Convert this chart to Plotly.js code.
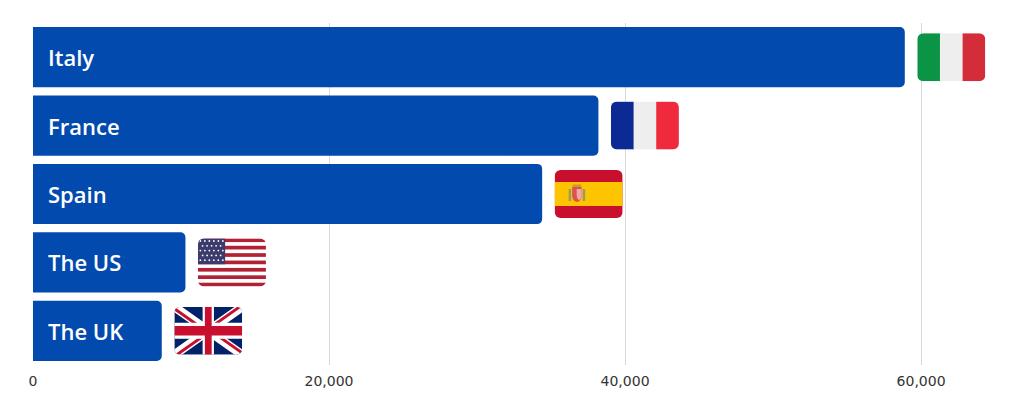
<!DOCTYPE html>
<html>
<head>
<meta charset="utf-8">
<script src="https://cdn.plot.ly/plotly-3.0.1.min.js"></script>
<style>
html,body{margin:0;padding:0;background:#fff;}
#chart{width:1014px;height:414px;}
</style>
</head>
<body>
<div id="chart"></div>
<script>
// ---- data ----
const countries = ["Italy", "France", "Spain", "The US", "The UK"];
const values = [58900, 38200, 34400, 10300, 8700];
const flagCodes = ["it", "fr", "es", "us", "gb"];
const tickValues = [0, 20000, 40000, 60000];
const tickLabels = ["0", "20,000", "40,000", "60,000"];

// ---- flag artwork (SVG) ----
const W = 68, H = 48, R = 6;
function wrap(inner) {
  return '<svg xmlns="http://www.w3.org/2000/svg" width="' + W + '" height="' + H + '" viewBox="0 0 ' + W + ' ' + H + '">' +
    '<defs><clipPath id="rc"><rect x="0" y="0" width="' + W + '" height="' + H + '" rx="' + R + '" ry="' + R + '"/></clipPath></defs>' +
    '<g clip-path="url(#rc)">' + inner + '</g></svg>';
}
function tricolour(a, b, c) {
  const w = W / 3;
  return '<rect x="0" y="0" width="' + (w + 0.5) + '" height="' + H + '" fill="' + a + '"/>' +
    '<rect x="' + w + '" y="0" width="' + (w + 0.5) + '" height="' + H + '" fill="' + b + '"/>' +
    '<rect x="' + (2 * w) + '" y="0" width="' + w + '" height="' + H + '" fill="' + c + '"/>';
}
function spain() {
  let s = '<rect x="0" y="0" width="' + W + '" height="' + H + '" fill="#c8102e"/>' +
    '<rect x="0" y="' + (H / 4) + '" width="' + W + '" height="' + (H / 2) + '" fill="#ffc400"/>';
  // simplified coat of arms
  s += '<rect x="14" y="19" width="2.5" height="12" fill="#9a9a6a"/>';
  s += '<rect x="28" y="19" width="2.5" height="12" fill="#9a9a6a"/>';
  s += '<path d="M17.5 17 h9.5 v8 q0 6 -4.75 7 q-4.75 -1 -4.75 -7 z" fill="#d9534f"/>';
  s += '<path d="M22 19 h5 v6 q0 4 -2.5 5 q-2.5 -1 -2.5 -5 z" fill="#f3a6a6"/>';
  s += '<rect x="18" y="14.5" width="8.5" height="2.5" fill="#c99a2e"/>';
  return s;
}
function usa() {
  let s = '<rect x="0" y="0" width="' + W + '" height="' + H + '" fill="#ffffff"/>';
  const sh = H / 13;
  for (let i = 0; i < 13; i += 2) {
    s += '<rect x="0" y="' + (i * sh) + '" width="' + W + '" height="' + sh + '" fill="#b22234"/>';
  }
  const cw = W * 0.4, ch = sh * 7;
  s += '<rect x="0" y="0" width="' + cw + '" height="' + ch + '" fill="#3c3b6e"/>';
  for (let r = 0; r < 5; r++) {
    const n = (r % 2 === 0) ? 6 : 5;
    for (let c = 0; c < n; c++) {
      const cx = (r % 2 === 0) ? (2.4 + c * 4.5) : (4.65 + c * 4.5);
      const cy = 2.6 + r * 4.8;
      s += '<circle cx="' + cx + '" cy="' + cy + '" r="0.9" fill="#ffffff"/>';
    }
  }
  return s;
}
function uk() {
  return '<svg x="0" y="0" width="' + W + '" height="' + H + '" viewBox="0 0 60 30" preserveAspectRatio="none">' +
    '<defs><clipPath id="t"><path d="M30,15 h30 v15 z v15 h-30 z h-30 v-15 z v-15 h30 z"/></clipPath></defs>' +
    '<rect x="0" y="0" width="60" height="30" fill="#012169"/>' +
    '<path d="M0,0 L60,30 M60,0 L0,30" stroke="#ffffff" stroke-width="6"/>' +
    '<path d="M0,0 L60,30 M60,0 L0,30" clip-path="url(#t)" stroke="#c8102e" stroke-width="4"/>' +
    '<path d="M30,0 v30 M0,15 h60" stroke="#ffffff" stroke-width="10"/>' +
    '<path d="M30,0 v30 M0,15 h60" stroke="#c8102e" stroke-width="6"/>' +
    '</svg>';
}
const flagArt = {
  it: wrap(tricolour("#0b9446", "#eeeeee", "#d22d38")),
  fr: wrap(tricolour("#0b2a93", "#eeeeee", "#ee2a3c")),
  es: wrap(spain()),
  us: wrap(usa()),
  gb: wrap(uk())
};
function uri(svg) { return "data:image/svg+xml;charset=utf-8," + encodeURIComponent(svg); }

// ---- geometry helpers (pixel -> data units) ----
const xMax = 65400;
const marginL = 33, marginR = 13;
const plotW = 1014 - marginL - marginR;
const pxPerUnit = plotW / xMax;
const flagGapPx = 12.5, flagWPx = W;
const catPx = 68.4;

const images = countries.map((c, i) => ({
  source: uri(flagArt[flagCodes[i]]),
  xref: "x", yref: "y",
  x: values[i] + flagGapPx / pxPerUnit,
  y: i,
  sizex: flagWPx / pxPerUnit,
  sizey: H / catPx,
  xanchor: "left", yanchor: "middle",
  sizing: "stretch",
  layer: "above"
}));

const annotations = countries.map((c, i) => ({
  x: 0, y: c, xref: "x", yref: "y",
  text: c, showarrow: false,
  xanchor: "left", yanchor: "middle",
  xshift: 13,
  font: { family: "Open Sans", size: 22, color: "#ffffff", weight: 600 }
}));

const trace = {
  type: "bar",
  orientation: "h",
  y: countries,
  x: values,
  marker: { color: "#034aae", cornerradius: 5 },
  hoverinfo: "x+y"
};

const layout = {
  width: 1014, height: 414,
  margin: { l: marginL, r: marginR, t: 23, b: 49 },
  paper_bgcolor: "#ffffff",
  plot_bgcolor: "#ffffff",
  bargap: 0.12,
  showlegend: false,
  xaxis: {
    range: [0, xMax],
    tickvals: tickValues,
    ticktext: tickLabels,
    showgrid: true,
    gridcolor: "#d9d9d9",
    gridwidth: 1,
    zeroline: false,
    showline: false,
    ticks: "",
    ticklabelstandoff: 6,
    tickfont: { family: "DejaVu Sans", size: 14, color: "#333333" }
  },
  yaxis: {
    autorange: "reversed",
    showticklabels: false,
    showgrid: false,
    zeroline: false,
    showline: false,
    ticks: ""
  },
  images: images,
  annotations: annotations
};

Plotly.newPlot("chart", [trace], layout, { displayModeBar: false, staticPlot: true });
</script>
</body>
</html>
